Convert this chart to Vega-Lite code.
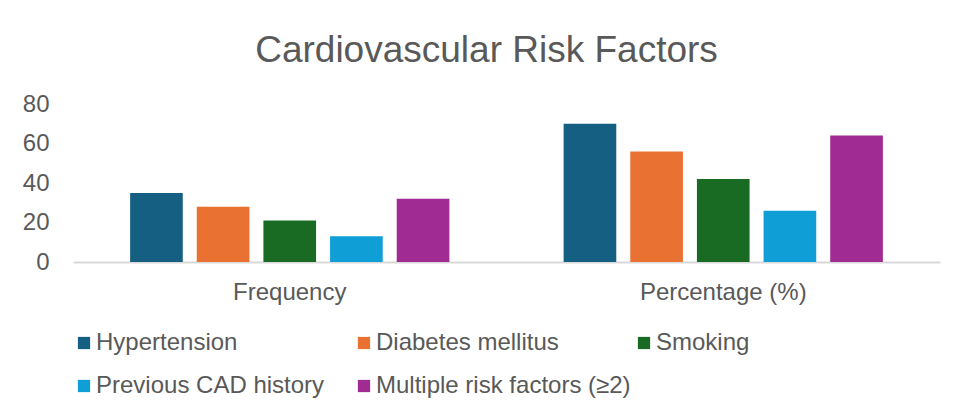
{
  "$schema": "https://vega.github.io/schema/vega-lite/v6.json",
  "autosize": {"type": "none"},
  "width": 867,
  "height": 158,
  "padding": {"left": 73, "top": 104, "right": 19, "bottom": 152},
  "background": "white",
  "title": {
    "text": "Cardiovascular Risk Factors",
    "font": "Liberation Sans",
    "fontSize": 37,
    "fontWeight": "normal",
    "color": "#595959",
    "offset": 22,
    "dx": -20
  },
  "data": {
    "values": [
      {"group": "Frequency", "factor": "Hypertension", "value": 35},
      {"group": "Frequency", "factor": "Diabetes mellitus", "value": 28},
      {"group": "Frequency", "factor": "Smoking", "value": 21},
      {"group": "Frequency", "factor": "Previous CAD history", "value": 13},
      {"group": "Frequency", "factor": "Multiple risk factors (≥2)", "value": 32},
      {"group": "Percentage (%)", "factor": "Hypertension", "value": 70},
      {"group": "Percentage (%)", "factor": "Diabetes mellitus", "value": 56},
      {"group": "Percentage (%)", "factor": "Smoking", "value": 42},
      {"group": "Percentage (%)", "factor": "Previous CAD history", "value": 26},
      {"group": "Percentage (%)", "factor": "Multiple risk factors (≥2)", "value": 64}
    ]
  },
  "mark": {"type": "bar"},
  "encoding": {
    "x": {
      "field": "group",
      "type": "nominal",
      "sort": ["Frequency", "Percentage (%)"],
      "scale": {"paddingInner": 0, "paddingOuter": 0},
      "axis": {
        "title": null,
        "labelAngle": 0,
        "ticks": false,
        "domainColor": "#D9D9D9",
        "domainWidth": 2,
        "labelFont": "Liberation Sans",
        "labelFontSize": 24,
        "labelColor": "#595959",
        "labelPadding": 18
      }
    },
    "xOffset": {
      "field": "factor",
      "type": "nominal",
      "sort": ["Hypertension", "Diabetes mellitus", "Smoking", "Previous CAD history", "Multiple risk factors (≥2)"],
      "scale": {"paddingInner": 0.21, "paddingOuter": 0.857}
    },
    "y": {
      "field": "value",
      "type": "quantitative",
      "scale": {"domain": [0, 80], "nice": false},
      "axis": {
        "title": null,
        "values": [0, 20, 40, 60, 80],
        "grid": false,
        "domain": false,
        "ticks": false,
        "labelFont": "Liberation Sans",
        "labelFontSize": 24,
        "labelColor": "#595959",
        "labelPadding": 24
      }
    },
    "color": {
      "field": "factor",
      "type": "nominal",
      "scale": {
        "domain": ["Hypertension", "Previous CAD history", "Diabetes mellitus", "Multiple risk factors (≥2)", "Smoking"],
        "range": ["#156082", "#0F9ED5", "#E97132", "#A02B93", "#196B24"]
      },
      "legend": {
        "title": null,
        "orient": "none",
        "legendX": -1,
        "legendY": 227,
        "columns": 3,
        "gridAlign": "all",
        "columnPadding": 1,
        "rowPadding": 19,
        "symbolType": "square",
        "symbolSize": 150,
        "symbolStrokeWidth": 0,
        "labelFont": "Liberation Sans",
        "labelFontSize": 24,
        "labelColor": "#595959",
        "labelOffset": 0,
        "labelLimit": 400
      }
    }
  },
  "config": {"view": {"stroke": null}}
}
